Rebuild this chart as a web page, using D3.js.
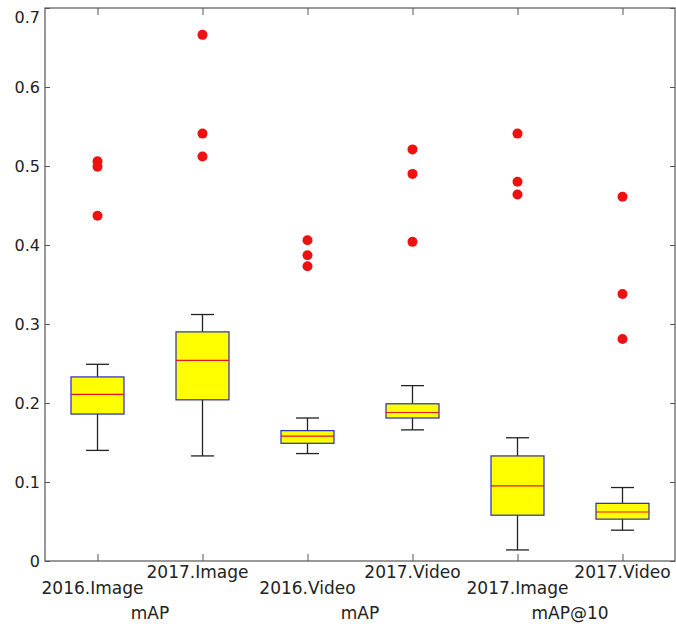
<!DOCTYPE html>
<html>
<head>
<meta charset="utf-8">
<script src="https://cdn.jsdelivr.net/npm/d3@7"></script>
<style>
  body { margin: 0; background: #fff; }
  text { font-family: "DejaVu Sans", sans-serif; fill: #222; }
</style>
</head>
<body>
<div id="chart"></div>
<script>
// box plot data
var categories = ["2016.Image", "2017.Image", "2016.Video", "2017.Video", "2017.Image", "2017.Video"];
var groups = [
  { name: "mAP", from: 0, to: 1 },
  { name: "mAP", from: 2, to: 3 },
  { name: "mAP@10", from: 4, to: 5 }
];
var whiskerLow  = [0.140, 0.133, 0.136, 0.166, 0.014, 0.039];
var q1          = [0.186, 0.204, 0.149, 0.181, 0.058, 0.053];
var medians     = [0.211, 0.254, 0.158, 0.188, 0.095, 0.062];
var q3          = [0.233, 0.290, 0.165, 0.199, 0.133, 0.073];
var whiskerHigh = [0.249, 0.312, 0.181, 0.222, 0.156, 0.093];
var outliers = [
  [0.506, 0.499, 0.437],
  [0.666, 0.541, 0.512],
  [0.406, 0.387, 0.373],
  [0.521, 0.490, 0.404],
  [0.541, 0.480, 0.464],
  [0.461, 0.338, 0.281]
];
var yTicks = [0, 0.1, 0.2, 0.3, 0.4, 0.5, 0.6, 0.7];

var svgWidth = 676;
var svgHeight = 626;
var margin = { top: 8, right: 1, bottom: 65, left: 45 };
var width = svgWidth - margin.left - margin.right;
var height = svgHeight - margin.top - margin.bottom;

var svg = d3.select("#chart")
  .append("svg")
  .attr("width", svgWidth)
  .attr("height", svgHeight);

var chartGroup = svg.append("g")
  .attr("transform", `translate(${margin.left}, ${margin.top})`);

// scales
var xScale = d3.scaleLinear()
  .domain([0.5, categories.length + 0.5])
  .range([0, width]);

var yScale = d3.scaleLinear()
  .domain([0, 0.7])
  .range([height, 0]);

var boxW = 53, capW = 23;

// frame
chartGroup.append("rect")
  .attr("width", width)
  .attr("height", height)
  .attr("fill", "none")
  .attr("stroke", "#555")
  .attr("stroke-width", 1.2);

// y axis (ticks inside)
var yAxis = d3.axisLeft(yScale)
  .tickValues(yTicks)
  .tickSize(-5)
  .tickPadding(5)
  .tickFormat(d => d === 0 ? "0" : d3.format(".1f")(d));

var gy = chartGroup.append("g").call(yAxis);
gy.select(".domain").remove();
gy.selectAll("line").attr("stroke", "#555");
gy.selectAll("text")
  .style("font-size", "16px")
  .attr("dy", d => d === 0.7 ? "0.9em" : "0.32em");

// right-side ticks
chartGroup.append("g")
  .attr("transform", `translate(${width}, 0)`)
  .call(d3.axisRight(yScale).tickValues(yTicks).tickSize(-5).tickFormat(""))
  .call(g => g.select(".domain").remove())
  .selectAll("line").attr("stroke", "#555");

// x ticks top and bottom
var idx = d3.range(categories.length);
chartGroup.append("g")
  .attr("transform", `translate(0, ${height})`)
  .call(d3.axisBottom(xScale).tickValues(idx.map(i => i + 1)).tickSize(-7).tickFormat(""))
  .call(g => g.select(".domain").remove())
  .selectAll("line").attr("stroke", "#555");

chartGroup.append("g")
  .call(d3.axisTop(xScale).tickValues(idx.map(i => i + 1)).tickSize(-7).tickFormat(""))
  .call(g => g.select(".domain").remove())
  .selectAll("line").attr("stroke", "#555");

// category labels, staggered
chartGroup.selectAll(".catLabel")
  .data(categories)
  .enter()
  .append("text")
  .attr("class", "catLabel")
  .attr("x", (d, i) => xScale(i + 1) - (i < 2 ? 5 : 0))
  .attr("y", (d, i) => height + (i % 2 === 0 ? 33 : 17))
  .attr("text-anchor", "middle")
  .style("font-size", "17px")
  .text(d => d);

// group labels
chartGroup.selectAll(".groupLabel")
  .data(groups)
  .enter()
  .append("text")
  .attr("class", "groupLabel")
  .attr("x", d => (xScale(d.from + 1) + xScale(d.to + 1)) / 2)
  .attr("y", height + 58)
  .attr("text-anchor", "middle")
  .style("font-size", "17px")
  .text(d => d.name);

// whiskers
var boxes = chartGroup.selectAll(".box")
  .data(idx)
  .enter()
  .append("g")
  .attr("class", "box");

boxes.append("line")
  .attr("x1", i => xScale(i + 1))
  .attr("x2", i => xScale(i + 1))
  .attr("y1", i => yScale(whiskerLow[i]))
  .attr("y2", i => yScale(whiskerHigh[i]))
  .attr("stroke", "#222")
  .attr("stroke-width", 1.3);

boxes.append("line")
  .attr("x1", i => xScale(i + 1) - capW / 2)
  .attr("x2", i => xScale(i + 1) + capW / 2)
  .attr("y1", i => yScale(whiskerHigh[i]))
  .attr("y2", i => yScale(whiskerHigh[i]))
  .attr("stroke", "#222")
  .attr("stroke-width", 1.3);

boxes.append("line")
  .attr("x1", i => xScale(i + 1) - capW / 2)
  .attr("x2", i => xScale(i + 1) + capW / 2)
  .attr("y1", i => yScale(whiskerLow[i]))
  .attr("y2", i => yScale(whiskerLow[i]))
  .attr("stroke", "#222")
  .attr("stroke-width", 1.3);

// boxes
boxes.append("rect")
  .attr("x", i => xScale(i + 1) - boxW / 2)
  .attr("y", i => yScale(q3[i]))
  .attr("width", boxW)
  .attr("height", i => yScale(q1[i]) - yScale(q3[i]))
  .attr("fill", "#ffff00")
  .attr("stroke", "#2a2ab8")
  .attr("stroke-width", 1.2);

// medians
boxes.append("line")
  .attr("x1", i => xScale(i + 1) - boxW / 2)
  .attr("x2", i => xScale(i + 1) + boxW / 2)
  .attr("y1", i => yScale(medians[i]))
  .attr("y2", i => yScale(medians[i]))
  .attr("stroke", "#e8141e")
  .attr("stroke-width", 1.2);

// outliers
var outlierPts = [];
outliers.forEach(function(arr, i) {
  arr.forEach(v => outlierPts.push({ i: i, v: v }));
});

chartGroup.selectAll(".outlier")
  .data(outlierPts)
  .enter()
  .append("circle")
  .attr("class", "outlier")
  .attr("cx", d => xScale(d.i + 1))
  .attr("cy", d => yScale(d.v))
  .attr("r", 5)
  .attr("fill", "#ee1111");
</script>
</body>
</html>
